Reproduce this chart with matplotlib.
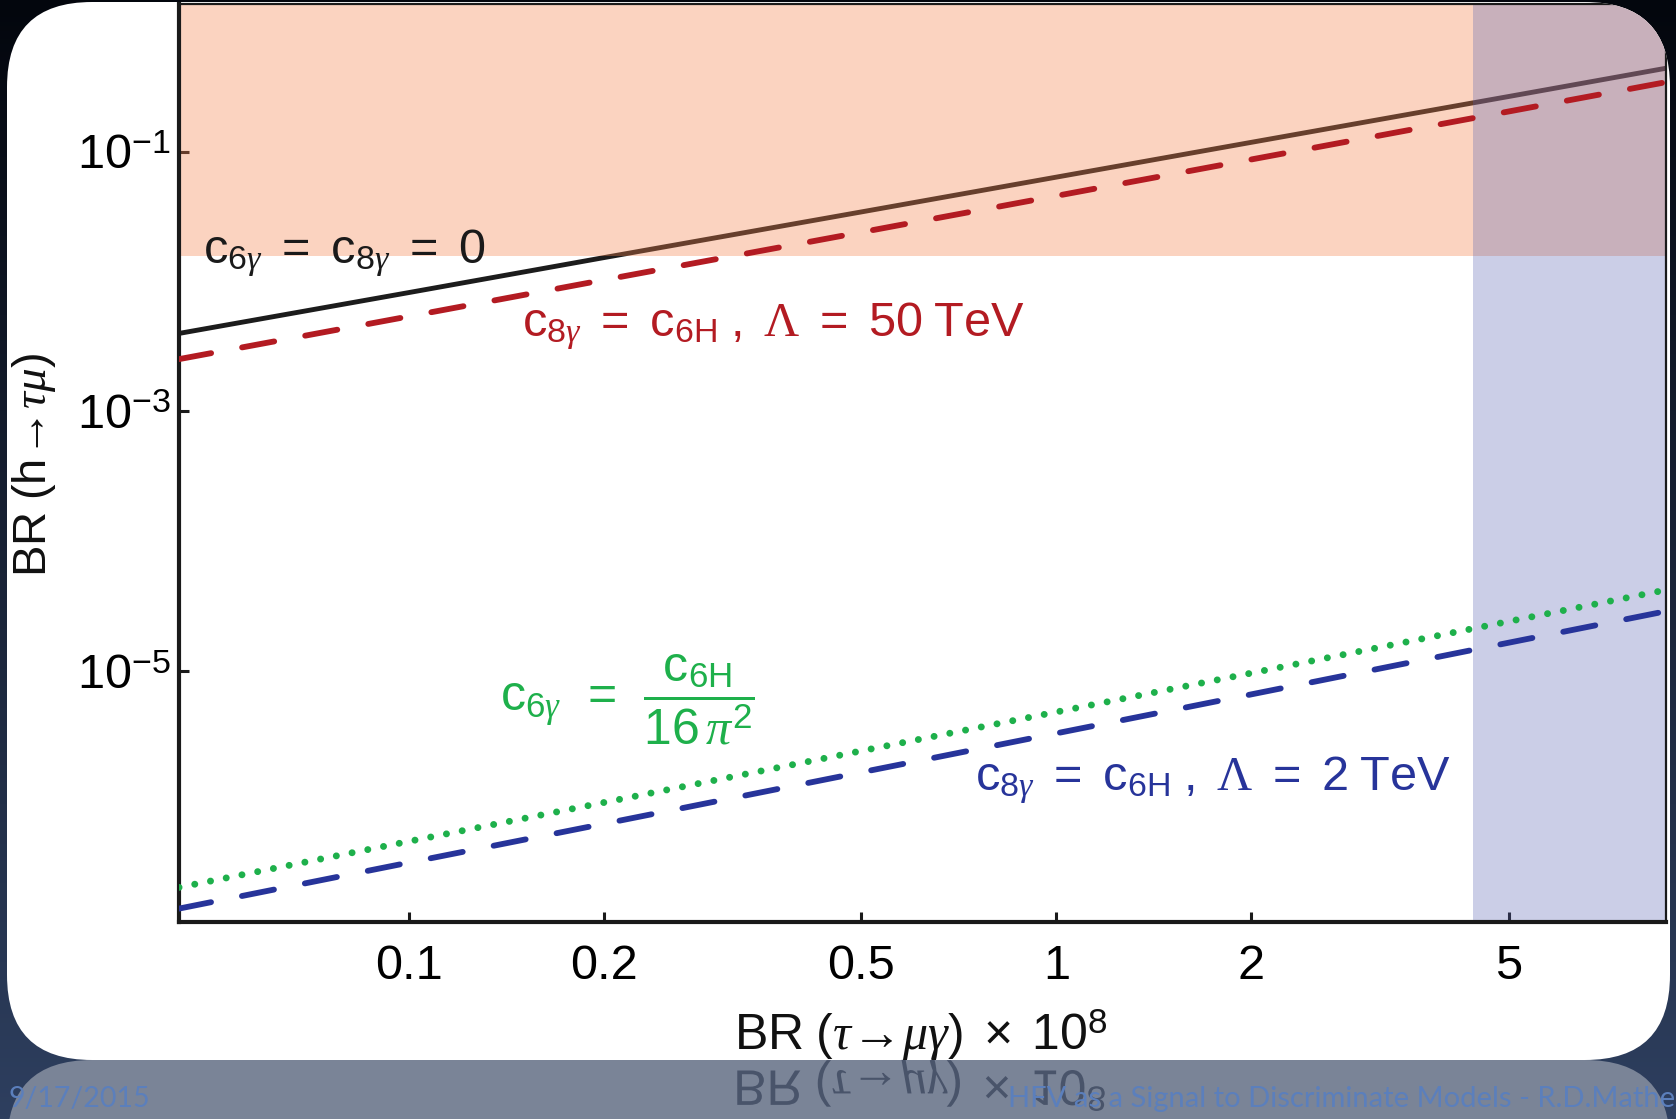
import matplotlib
matplotlib.use('Agg')
import matplotlib.pyplot as plt
from matplotlib.patches import FancyBboxPatch, PathPatch
from matplotlib.textpath import TextPath
from matplotlib.font_manager import FontProperties
from matplotlib.transforms import Affine2D
import numpy as np

plt.rcParams['font.family'] = ['Liberation Sans', 'DejaVu Sans']
plt.rcParams['mathtext.fontset'] = 'custom'
plt.rcParams['mathtext.rm'] = 'Liberation Sans'
plt.rcParams['mathtext.it'] = 'Liberation Serif:italic'
plt.rcParams['mathtext.bf'] = 'Liberation Sans:bold'
plt.rcParams['mathtext.sf'] = 'Liberation Sans'
plt.rcParams['mathtext.tt'] = 'Liberation Serif'   # used for the upright serif Lambda

# values (x = BR(tau->mu gamma) x 1e8)
br_tau = [0.0441, 0.1, 0.2, 0.5, 1, 2, 5, 8.75]
c6g_c8g_zero = [3.99e-3, 8.24e-3, 0.0153, 0.0344, 0.0637, 0.118, 0.266, 0.439]
lam_50tev = [2.53e-3, 5.40e-3, 0.0103, 0.0240, 0.0457, 0.0871, 0.204, 0.343]
c6g_loop = [2.17e-7, 4.91e-7, 9.77e-7, 2.44e-6, 4.86e-6, 9.68e-6, 2.42e-5, 4.23e-5]
lam_2tev = [1.49e-7, 3.37e-7, 6.70e-7, 1.67e-6, 3.33e-6, 6.64e-6, 1.66e-5, 2.90e-5]

h_limit = 0.0158   # BR(h->tau mu) excluded above
tau_limit = 4.4    # BR(tau->mu gamma) x 1e8 excluded above

xticks = [0.1, 0.2, 0.5, 1, 2, 5]
xticklabels = ['0.1', '0.2', '0.5', '1', '2', '5']
yticks = [1e-1, 1e-3, 1e-5]
yticklabels = [r'$10^{-1}$', r'$10^{-3}$', r'$10^{-5}$']

W, H = 1676, 1119
fig = plt.figure(figsize=(W / 100, H / 100), dpi=100)

# slide background
bg = fig.add_axes([0, 0, 1, 1], zorder=-5)
top = np.array([3, 6, 13]) / 255
bot = np.array([46, 63, 95]) / 255
t = np.linspace(0, 1, 256)[:, None]
grad = top[None, :] * (1 - t) + bot[None, :] * t
bg.imshow(grad[:, None, :], aspect='auto', extent=[0, 1, 0, 1])
bg.axis('off')

# white rounded card and its reflection (inches)
bx0, by0, bw, bh = 0.07, (H - 1060) / 100, 16.63, 10.58
refl = FancyBboxPatch((bx0, by0 - bh), bw, bh, boxstyle='round,pad=0,rounding_size=0.85',
                      transform=fig.dpi_scale_trans, facecolor='#7A8497', edgecolor='none', zorder=-4)
fig.add_artist(refl)
card = FancyBboxPatch((bx0, by0), bw, bh, boxstyle='round,pad=0,rounding_size=0.85',
                      transform=fig.dpi_scale_trans, facecolor='white', edgecolor='none', zorder=-3)
fig.add_artist(card)

ax = fig.add_axes([179 / W, 1 - 922 / H, (1666 - 179) / W, (922 - 4) / H])

ax.plot(br_tau, c6g_c8g_zero, color='#1c1c1c', lw=3.5, zorder=1)
ax.axhspan(h_limit, 10, color='#F4814B', alpha=0.35, lw=0, zorder=2)
ax.axvspan(tau_limit, 100, color='#555FB2', alpha=0.3, lw=0, zorder=2.5)
ax.plot(br_tau, lam_50tev, color='#B31B22', lw=4.2, ls=(0, (5.6, 5.4)),
        dash_capstyle='round', zorder=3)
ax.plot(br_tau, c6g_loop, color='#1EB04B', lw=5, ls=(0, (0.01, 2.3)),
        dash_capstyle='round', zorder=3)
ax.plot(br_tau, lam_2tev, color='#27349A', lw=4.2, ls=(0, (5.6, 5.4)),
        dash_capstyle='round', zorder=3)

ax.set_xscale('log')
ax.set_yscale('log')
ax.set_xlim(0.0441, 8.75)
ax.set_ylim(10 ** -6.93, 10 ** 0.137)
ax.set_xticks(xticks)
ax.set_xticklabels(xticklabels)
ax.set_yticks(yticks)
ax.set_yticklabels(yticklabels)
ax.minorticks_off()
ax.tick_params(direction='in', length=7, width=2.2, labelsize=35, color='#1a1a1a')
ax.tick_params(axis='x', pad=16)
ax.tick_params(axis='y', pad=6)
for side in ['left', 'bottom']:
    ax.spines[side].set_linewidth(3)
for side in ['top', 'right']:
    ax.spines[side].set_linewidth(1.6)
for sp in ax.spines.values():
    sp.set_color('#1a1a1a')

eq = r'\:\,=\:\,'
lam = r'\mathtt{\Lambda}'
ax.text(0.016, 0.729, r'$\mathrm{c}_{6\gamma}' + eq + r'\mathrm{c}_{8\gamma}' + eq + r'0$',
        transform=ax.transAxes, fontsize=35, color='#1a1a1a', va='center', zorder=4)
ax.text(0.231, 0.649, r'$\mathrm{c}_{8\gamma}' + eq + r'\mathrm{c}_{6\mathrm{H}}\ ,\ ' + lam + eq
        + r'50\ \mathrm{TeV}$',
        transform=ax.transAxes, fontsize=35, color='#B31B22', va='center', zorder=4)
ax.text(0.216, 0.242, r'$\mathrm{c}_{6\gamma}\;\;=\;\;\dfrac{\;\mathrm{c}_{6\mathrm{H}}\;}{16\,\pi^2}$',
        transform=ax.transAxes, fontsize=36, color='#1EB04B', va='center', zorder=4)
ax.text(0.535, 0.155, r'$\mathrm{c}_{8\gamma}' + eq + r'\mathrm{c}_{6\mathrm{H}}\ ,\ ' + lam + eq
        + r'2\ \mathrm{TeV}$',
        transform=ax.transAxes, fontsize=35, color='#27349A', va='center', zorder=4)

# clip the plot to the rounded card
for art in [ax.patch] + list(ax.spines.values()) + ax.lines + ax.patches + ax.texts:
    art.set_clip_path(card)

xlab = r'$\mathrm{BR}\ (\tau\!\rightarrow\!\mu\gamma)\ \times\ 10^8$'
fig.text(921 / W, 1 - 1035 / H, xlab, fontsize=36, ha='center', va='center', color='#111111')
fig.text(34 / W, 1 - 465 / H, r'$\mathrm{BR}\ (\mathrm{h}\!\rightarrow\!\tau\mu)$', fontsize=34,
         rotation=90, ha='center', va='center', color='#111111')

# mirrored x label in the reflection strip
tp = TextPath((0, 0), xlab, size=50, prop=FontProperties(family='Liberation Sans'))
ext = tp.get_extents()
tr = Affine2D().translate(-(ext.x0 + ext.x1) / 2, 0).scale(1, -1).translate(921, H - 1070).scale(0.01)
fig.add_artist(PathPatch(tp, transform=tr + fig.dpi_scale_trans, facecolor='#39445C',
                         edgecolor='none', alpha=0.75, zorder=-2))

# slide footer
fig.text(9 / W, 1 - 1099 / H, '9/17/2015', fontsize=20.5, family='Lato', color='#5B7FBC', va='center')
fig.text(1008 / W, 1 - 1099 / H, 'HFV as a Signal to Discriminate Models - R.D.Mathe',
         fontsize=21, family='Lato', color='#5B7FBC', va='center')

fig.savefig('out.png', dpi=100)
